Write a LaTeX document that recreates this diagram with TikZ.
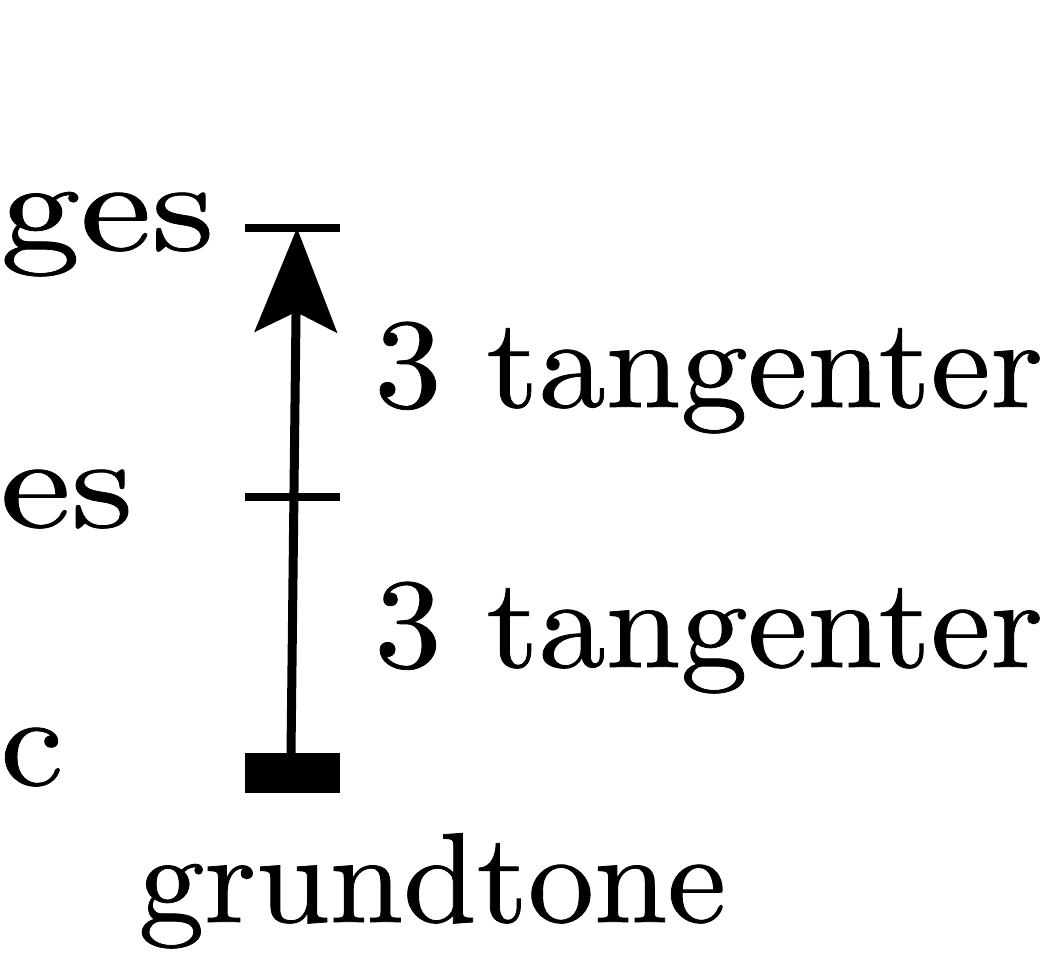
\documentclass[tikz,border=0pt]{standalone}
\usepackage{fontspec}
\setmainfont{lmroman10-regular.otf}[FakeBold=0.6]
\usetikzlibrary{arrows.meta}
\begin{document}
\begin{tikzpicture}[x=0.5pt,y=-0.5pt,
  lbl/.style={anchor=base west,inner sep=0pt,font=\fontsize{64}{70}\selectfont},
  tick/.style={line width=4pt},
  arr/.style={line width=4.5pt,-{Stealth[length=52pt,width=41pt,inset=10pt]}}]
\useasboundingbox (0,0) rectangle (1042,971);
\node[lbl] (ges) at (0,250) {\scalebox{1.25}[1]{ges}};
\node[lbl] (es) at (0,527) {\scalebox{1.24}[1]{es}};
\node[lbl] (c) at (0,785) {\scalebox{1.11}[1]{c}};
\node[lbl] (t1) at (374,407) {\scalebox{1.05}[1]{3 tangenter}};
\node[lbl] (t2) at (374,667) {\scalebox{1.05}[1]{3 tangenter}};
\node[lbl] (gt) at (138,922) {\scalebox{1.032}[1]{grundtone}};
\coordinate (gesL) at (245,228); \coordinate (gesR) at (340,228);
\coordinate (esL) at (245,497); \coordinate (esR) at (340,497);
\coordinate (rootA) at (245,753); \coordinate (rootB) at (340,793);
\coordinate (base) at (291,753); \coordinate (top) at (297,228);
\draw[tick] (gesL) -- (gesR);
\draw[tick] (esL) -- (esR);
\fill (rootA) rectangle (rootB);
\draw[arr] (base) -- (top);
\end{tikzpicture}
\end{document}
